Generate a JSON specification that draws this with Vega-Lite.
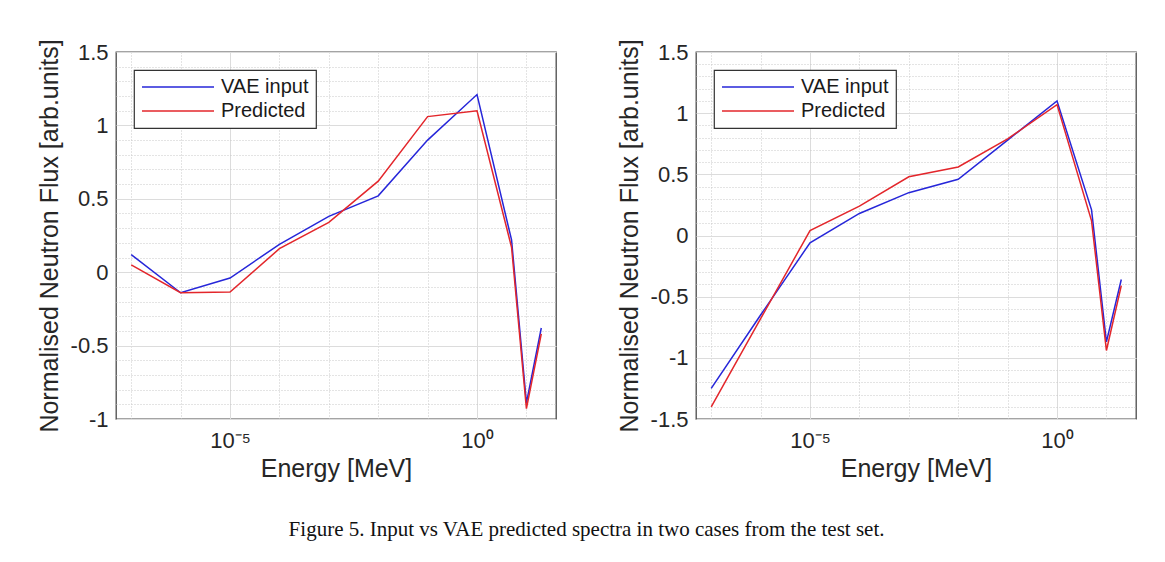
{
  "$schema": "https://vega.github.io/schema/vega-lite/v6.json",
  "background": "white",
  "padding": {"left": 36, "top": 38, "right": 5, "bottom": 5},
  "title": {
    "text": "Figure 5. Input vs VAE predicted spectra in two cases from the test set.",
    "orient": "bottom",
    "anchor": "middle",
    "font": "Liberation Serif",
    "fontSize": 21,
    "fontWeight": "normal",
    "color": "#111111",
    "offset": 37
  },
  "config": {
    "view": {"stroke": "#4a4a4a", "strokeWidth": 1.3},
    "concat": {"spacing": 59},
    "axis": {
      "labelFont": "Liberation Sans",
      "labelFontSize": 21,
      "labelColor": "#262626",
      "titleFont": "Liberation Sans",
      "titleFontSize": 25,
      "titleFontWeight": "normal",
      "titleColor": "#262626",
      "domain": false,
      "ticks": false,
      "labelOverlap": false,
      "labelFlush": false,
      "gridWidth": 1
    },
    "legend": {
      "orient": "top-left",
      "offset": 18,
      "padding": 7,
      "strokeColor": "#333333",
      "strokeWidth": 1.2,
      "fillColor": "white",
      "symbolType": "stroke",
      "symbolSize": 5184,
      "symbolStrokeWidth": 1.6,
      "clipHeight": 20,
      "rowPadding": 4,
      "labelOffset": 6,
      "labelFont": "Liberation Sans",
      "labelFontSize": 20,
      "labelColor": "#1a1a1a",
      "title": null
    }
  },
  "datasets": {
    "left": [
      {"energy": 1e-7, "series": "VAE input", "flux": 0.12},
      {"energy": 1e-6, "series": "VAE input", "flux": -0.14},
      {"energy": 1e-5, "series": "VAE input", "flux": -0.04},
      {"energy": 1e-4, "series": "VAE input", "flux": 0.19},
      {"energy": 1e-3, "series": "VAE input", "flux": 0.38},
      {"energy": 1e-2, "series": "VAE input", "flux": 0.52},
      {"energy": 0.1, "series": "VAE input", "flux": 0.9},
      {"energy": 1, "series": "VAE input", "flux": 1.21},
      {"energy": 5, "series": "VAE input", "flux": 0.22},
      {"energy": 10, "series": "VAE input", "flux": -0.89},
      {"energy": 20, "series": "VAE input", "flux": -0.38},
      {"energy": 1e-7, "series": "Predicted", "flux": 0.05},
      {"energy": 1e-6, "series": "Predicted", "flux": -0.14},
      {"energy": 1e-5, "series": "Predicted", "flux": -0.135},
      {"energy": 1e-4, "series": "Predicted", "flux": 0.16},
      {"energy": 1e-3, "series": "Predicted", "flux": 0.34},
      {"energy": 1e-2, "series": "Predicted", "flux": 0.62},
      {"energy": 0.1, "series": "Predicted", "flux": 1.06},
      {"energy": 1, "series": "Predicted", "flux": 1.1},
      {"energy": 5, "series": "Predicted", "flux": 0.17},
      {"energy": 10, "series": "Predicted", "flux": -0.93},
      {"energy": 20, "series": "Predicted", "flux": -0.42}
    ],
    "right": [
      {"energy": 1e-7, "series": "VAE input", "flux": -1.25},
      {"energy": 1e-6, "series": "VAE input", "flux": -0.65},
      {"energy": 1e-5, "series": "VAE input", "flux": -0.06},
      {"energy": 1e-4, "series": "VAE input", "flux": 0.18},
      {"energy": 1e-3, "series": "VAE input", "flux": 0.35},
      {"energy": 1e-2, "series": "VAE input", "flux": 0.46},
      {"energy": 0.1, "series": "VAE input", "flux": 0.78},
      {"energy": 1, "series": "VAE input", "flux": 1.1},
      {"energy": 5, "series": "VAE input", "flux": 0.21},
      {"energy": 10, "series": "VAE input", "flux": -0.87},
      {"energy": 20, "series": "VAE input", "flux": -0.36},
      {"energy": 1e-7, "series": "Predicted", "flux": -1.4},
      {"energy": 1e-6, "series": "Predicted", "flux": -0.68},
      {"energy": 1e-5, "series": "Predicted", "flux": 0.04},
      {"energy": 1e-4, "series": "Predicted", "flux": 0.24},
      {"energy": 1e-3, "series": "Predicted", "flux": 0.48},
      {"energy": 1e-2, "series": "Predicted", "flux": 0.56},
      {"energy": 0.1, "series": "Predicted", "flux": 0.79},
      {"energy": 1, "series": "Predicted", "flux": 1.07},
      {"energy": 5, "series": "Predicted", "flux": 0.12},
      {"energy": 10, "series": "Predicted", "flux": -0.94},
      {"energy": 20, "series": "Predicted", "flux": -0.41}
    ]
  },
  "resolve": {"scale": {"color": "independent"}, "legend": {"color": "independent"}},
  "hconcat": [
    {
      "width": 440,
      "height": 367,
      "data": {"name": "left"},
      "mark": {"type": "line", "strokeWidth": 1.5, "clip": true},
      "encoding": {
        "x": {
          "field": "energy",
          "type": "quantitative",
          "title": "Energy [MeV]",
          "scale": {"type": "log", "domain": [4.92e-8, 39.7], "nice": false},
          "axis": {
            "values": [1e-7, 1e-6, 1e-5, 1e-4, 1e-3, 1e-2, 0.1, 1, 10],
            "labelExpr": "abs(log(datum.value)/LN10 + 5) < 0.01 ? '10⁻⁵' : (abs(log(datum.value)/LN10) < 0.01 ? '10⁰' : '')",
            "labelFontSize": 22,
            "labelPadding": 11,
            "titlePadding": 5,
            "gridDash": {"condition": {"test": "abs(log(datum.value)/LN10 + 5) < 0.01 || abs(log(datum.value)/LN10) < 0.01", "value": []}, "value": [1, 2]},
            "gridColor": {"condition": {"test": "abs(log(datum.value)/LN10 + 5) < 0.01 || abs(log(datum.value)/LN10) < 0.01", "value": "#dcdcdc"}, "value": "#c8c8c8"}
          }
        },
        "y": {
          "field": "flux",
          "type": "quantitative",
          "title": "Normalised Neutron Flux [arb.units]",
          "scale": {"domain": [-1, 1.5], "nice": false, "zero": false},
          "axis": {
            "values": [-1, -0.9, -0.8, -0.7, -0.6, -0.5, -0.4, -0.3, -0.2, -0.1, 0, 0.1, 0.2, 0.3, 0.4, 0.5, 0.6, 0.7, 0.8, 0.9, 1, 1.1, 1.2, 1.3, 1.4, 1.5],
            "labelExpr": "abs(datum.value*2 - round(datum.value*2)) < 0.001 ? toString(round(datum.value*10)/10) : ''",
            "labelFontSize": 22,
            "labelPadding": 8,
            "titlePadding": 8,
            "gridDash": {"condition": {"test": "abs(datum.value*2 - round(datum.value*2)) < 0.001", "value": []}, "value": [1, 2]},
            "gridColor": {"condition": {"test": "abs(datum.value*2 - round(datum.value*2)) < 0.001", "value": "#dcdcdc"}, "value": "#c8c8c8"}
          }
        },
        "color": {
          "field": "series",
          "type": "nominal",
          "scale": {"domain": ["VAE input", "Predicted"], "range": ["#2626d9", "#e3262b"]},
          "legend": {}
        }
      }
    },
    {
      "width": 440,
      "height": 367,
      "data": {"name": "right"},
      "mark": {"type": "line", "strokeWidth": 1.5, "clip": true},
      "encoding": {
        "x": {
          "field": "energy",
          "type": "quantitative",
          "title": "Energy [MeV]",
          "scale": {"type": "log", "domain": [4.92e-8, 39.7], "nice": false},
          "axis": {
            "values": [1e-7, 1e-6, 1e-5, 1e-4, 1e-3, 1e-2, 0.1, 1, 10],
            "labelExpr": "abs(log(datum.value)/LN10 + 5) < 0.01 ? '10⁻⁵' : (abs(log(datum.value)/LN10) < 0.01 ? '10⁰' : '')",
            "labelFontSize": 22,
            "labelPadding": 11,
            "titlePadding": 5,
            "gridDash": {"condition": {"test": "abs(log(datum.value)/LN10 + 5) < 0.01 || abs(log(datum.value)/LN10) < 0.01", "value": []}, "value": [1, 2]},
            "gridColor": {"condition": {"test": "abs(log(datum.value)/LN10 + 5) < 0.01 || abs(log(datum.value)/LN10) < 0.01", "value": "#dcdcdc"}, "value": "#c8c8c8"}
          }
        },
        "y": {
          "field": "flux",
          "type": "quantitative",
          "title": "Normalised Neutron Flux [arb.units]",
          "scale": {"domain": [-1.5, 1.5], "nice": false, "zero": false},
          "axis": {
            "values": [-1.5, -1.4, -1.3, -1.2, -1.1, -1, -0.9, -0.8, -0.7, -0.6, -0.5, -0.4, -0.3, -0.2, -0.1, 0, 0.1, 0.2, 0.3, 0.4, 0.5, 0.6, 0.7, 0.8, 0.9, 1, 1.1, 1.2, 1.3, 1.4, 1.5],
            "labelExpr": "abs(datum.value*2 - round(datum.value*2)) < 0.001 ? toString(round(datum.value*10)/10) : ''",
            "labelFontSize": 22,
            "labelPadding": 8,
            "titlePadding": 8,
            "gridDash": {"condition": {"test": "abs(datum.value*2 - round(datum.value*2)) < 0.001", "value": []}, "value": [1, 2]},
            "gridColor": {"condition": {"test": "abs(datum.value*2 - round(datum.value*2)) < 0.001", "value": "#dcdcdc"}, "value": "#c8c8c8"}
          }
        },
        "color": {
          "field": "series",
          "type": "nominal",
          "scale": {"domain": ["VAE input", "Predicted"], "range": ["#2626d9", "#e3262b"]},
          "legend": {}
        }
      }
    }
  ]
}
